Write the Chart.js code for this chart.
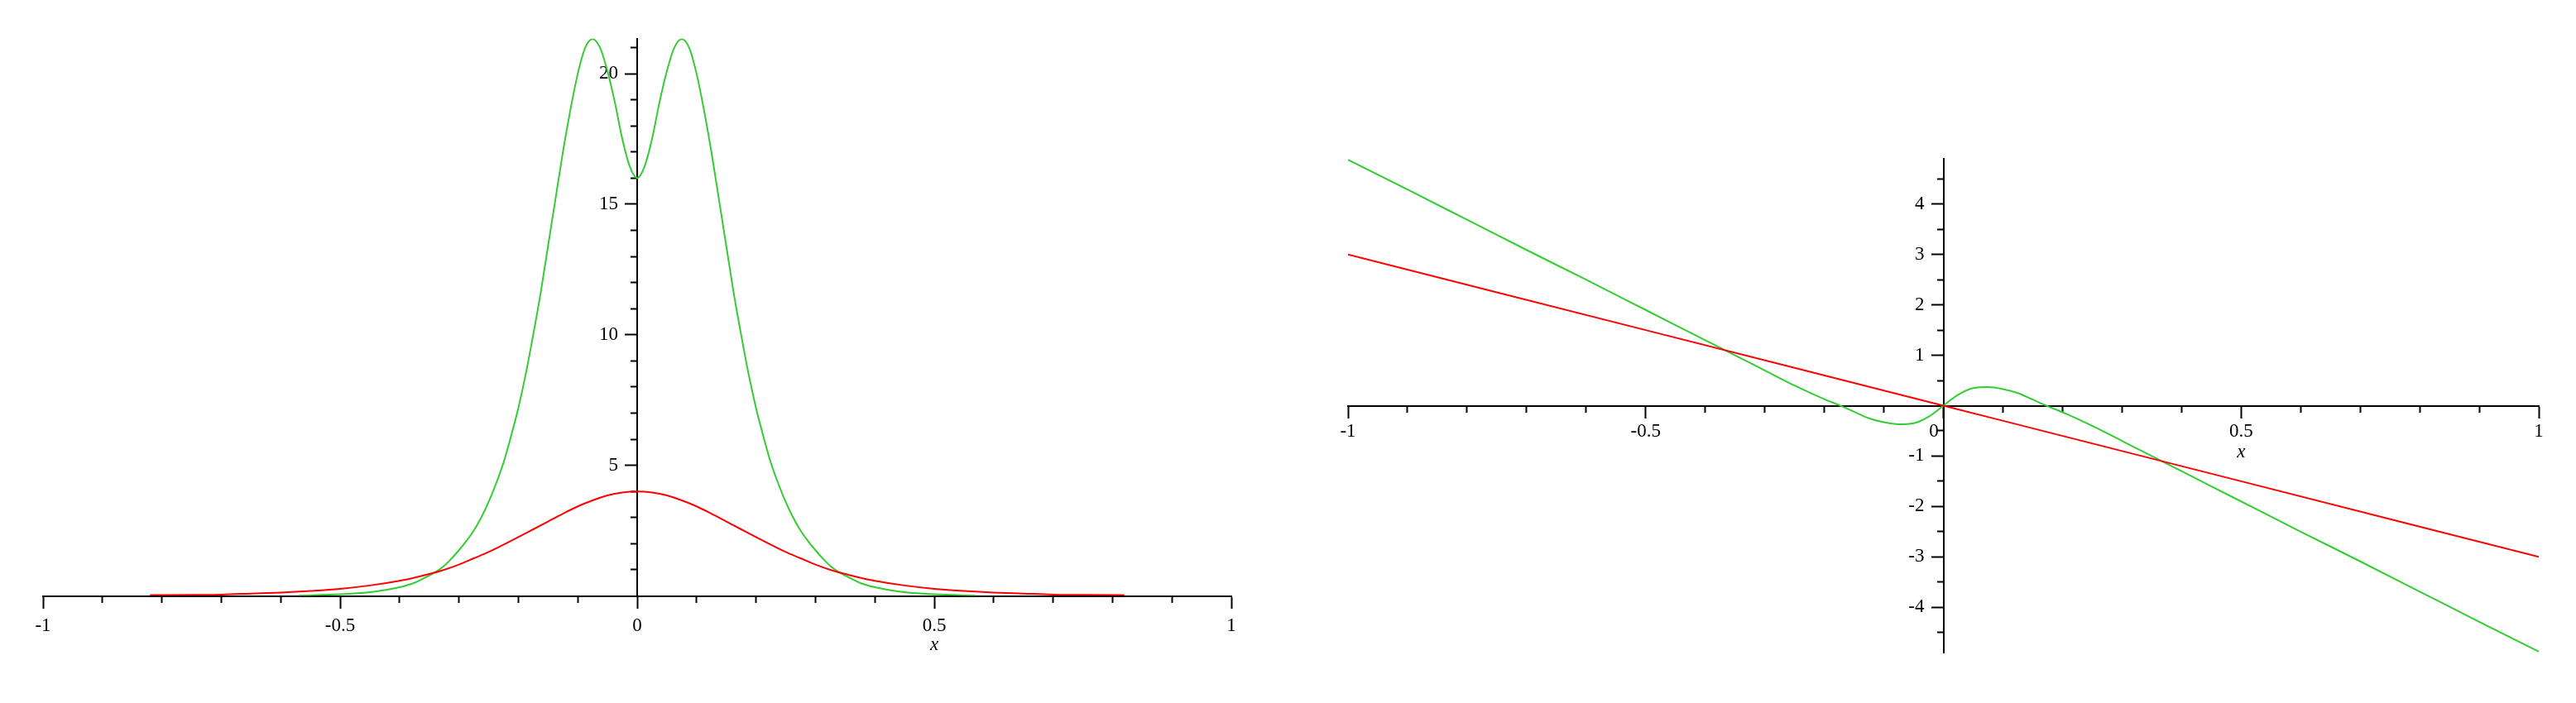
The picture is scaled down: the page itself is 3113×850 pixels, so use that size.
<!DOCTYPE html>
<html>
<head>
<meta charset="utf-8">
<script src="https://cdn.jsdelivr.net/npm/chart.js@4.4.1/dist/chart.umd.min.js"></script>
<style>
  html, body { margin: 0; padding: 0; background: #fff; }
  #wrap { position: relative; width: 3113px; height: 850px; }
  canvas { position: absolute; top: 0; }
  #left { left: 0; }
  #right { left: 1560px; }
</style>
</head>
<body>
<div id="wrap">
  <canvas id="left" width="1560" height="850"></canvas>
  <canvas id="right" width="1553" height="850"></canvas>
</div>
<script>
// left plot: red bell and green double hump
const leftRedX = [-0.82, -0.75, -0.7, -0.65, -0.6, -0.55, -0.5, -0.45, -0.4, -0.375, -0.35, -0.325, -0.3, -0.275, -0.25, -0.225, -0.2, -0.175, -0.15, -0.125, -0.1, -0.075, -0.05, -0.025,
                  0, 0.025, 0.05, 0.075, 0.1, 0.125, 0.15, 0.175, 0.2, 0.225, 0.25, 0.275, 0.3, 0.325, 0.35, 0.375, 0.4, 0.45, 0.5, 0.55, 0.6, 0.65, 0.7, 0.75, 0.82];
const leftRedY = [0.03, 0.04, 0.05, 0.09, 0.13, 0.19, 0.27, 0.40, 0.58, 0.70, 0.84, 1.0, 1.2, 1.44, 1.68, 1.96, 2.25, 2.55, 2.85, 3.15, 3.43, 3.66, 3.85, 3.96,
                  4.0, 3.96, 3.85, 3.66, 3.43, 3.15, 2.85, 2.55, 2.25, 1.96, 1.68, 1.44, 1.2, 1.0, 0.84, 0.70, 0.58, 0.40, 0.27, 0.19, 0.13, 0.09, 0.05, 0.04, 0.03];

const leftGreenX = [-0.57, -0.5, -0.45, -0.425, -0.4, -0.375, -0.35, -0.3375, -0.325, -0.3125, -0.3, -0.2875, -0.275, -0.2625, -0.25, -0.2375, -0.225, -0.2125, -0.2, -0.1875, -0.175, -0.1625, -0.15, -0.1375, -0.125, -0.1125, -0.1, -0.0875, -0.075, -0.0625, -0.05, -0.0375, -0.025, -0.0125,
                    0, 0.0125, 0.025, 0.0375, 0.05, 0.0625, 0.075, 0.0875, 0.1, 0.1125, 0.125, 0.1375, 0.15, 0.1625, 0.175, 0.1875, 0.2, 0.2125, 0.225, 0.2375, 0.25, 0.2625, 0.275, 0.2875, 0.3, 0.3125, 0.325, 0.3375, 0.35, 0.375, 0.4, 0.425, 0.45, 0.5, 0.57];
const leftGreenY = [0.01, 0.06, 0.14, 0.22, 0.33, 0.5, 0.78, 0.94, 1.15, 1.43, 1.75, 2.1, 2.5, 3.0, 3.6, 4.3, 5.1, 6.1, 7.2, 8.5, 10.0, 11.6, 13.4, 15.2, 17.0, 18.6, 20.0, 21.0, 21.33, 21.0, 20.1, 18.9, 17.5, 16.45,
                    16.0, 16.45, 17.5, 18.9, 20.1, 21.0, 21.33, 21.0, 20.0, 18.6, 17.0, 15.2, 13.4, 11.6, 10.0, 8.5, 7.2, 6.1, 5.1, 4.3, 3.6, 3.0, 2.5, 2.1, 1.75, 1.43, 1.15, 0.94, 0.78, 0.5, 0.33, 0.22, 0.14, 0.06, 0.01];

// right plot: red straight line and green wiggle
const rightRedX = [-1, -0.5, 0, 0.5, 1];
const rightRedY = [3, 1.5, 0, -1.5, -3];

const rightGreenX = [-1, -0.9, -0.8, -0.7, -0.6, -0.5, -0.4, -0.35, -0.3, -0.25, -0.2, -0.175, -0.15, -0.125, -0.1, -0.075, -0.05, -0.025,
                     0, 0.025, 0.05, 0.075, 0.1, 0.125, 0.15, 0.175, 0.2, 0.25, 0.3, 0.35, 0.4, 0.5, 0.6, 0.7, 0.8, 0.9, 1];
const rightGreenY = [4.88, 4.29, 3.69, 3.09, 2.5, 1.9, 1.3, 1.0, 0.7, 0.4, 0.13, 0.01, -0.12, -0.25, -0.33, -0.37, -0.35, -0.22,
                     0, 0.22, 0.35, 0.37, 0.33, 0.25, 0.12, -0.01, -0.13, -0.4, -0.7, -1.0, -1.3, -1.9, -2.5, -3.09, -3.69, -4.29, -4.88];

// ticks
const xTickVals = [-1, -0.9, -0.8, -0.7, -0.6, -0.5, -0.4, -0.3, -0.2, -0.1, 0, 0.1, 0.2, 0.3, 0.4, 0.5, 0.6, 0.7, 0.8, 0.9, 1];
const xLabelVals = [-1, -0.5, 0, 0.5, 1];
const leftXLabels = ['-1', '-0.5', '0', '0.5', '1'];
const rightXLabels = ['-1', '-0.5', '0\u2002\u2002', '0.5', '1'];

const leftYTickVals = [1, 2, 3, 4, 5, 6, 7, 8, 9, 10, 11, 12, 13, 14, 15, 16, 17, 18, 19, 20, 21];
const leftYLabelVals = [5, 10, 15, 20];
const leftYLabels = ['5', '10', '15', '20'];

const rightYTickVals = [-4.5, -4, -3.5, -3, -2.5, -2, -1.5, -1, -0.5, 0.5, 1, 1.5, 2, 2.5, 3, 3.5, 4, 4.5];
const rightYLabelVals = [-4, -3, -2, -1, 1, 2, 3, 4];
const rightYLabels = ['-4', '-3', '-2', '-1', '1', '2', '3', '4'];

const RED = '#ff0000';
const GREEN = '#33cc33';
// y labels sit right-aligned on the axis line, so push them past the ticks
const Y_GAP = '\u2002\u2002';

Chart.defaults.font.family = '"Liberation Serif", "Times New Roman", serif';
Chart.defaults.font.size = 23;
Chart.defaults.color = '#000';

const pts = (xs, ys) => xs.map((x, i) => ({x: x, y: ys[i]}));
const findIdx = (vals, v) => vals.findIndex(a => Math.abs(a - v) < 1e-9);

const axisName = {
    id: 'axisName',
    afterDraw(chart, args, opts) {
        const {ctx, scales} = chart;
        ctx.save();
        ctx.font = 'italic 23px "Liberation Serif"';
        ctx.fillStyle = '#000';
        ctx.textAlign = 'center';
        ctx.textBaseline = 'alphabetic';
        ctx.fillText(opts.text, scales.x.getPixelForValue(opts.at), scales.y.getPixelForValue(0) + opts.offset);
        ctx.restore();
    }
};

function makeAxis(tickVals, labelVals, labels, extra) {
    return Object.assign({
        type: 'linear',
        afterBuildTicks: s => { s.ticks = tickVals.map(v => ({value: v})); },
        grid: {
            display: true,
            drawOnChartArea: false,
            drawTicks: true,
            tickLength: 14,
            tickWidth: 2,
            tickColor: '#000',
            tickBorderDash: c => findIdx(labelVals, c.tick.value) >= 0 ? [] : [7, 40]
        },
        border: { display: true, color: '#000', width: 2 },
        ticks: {
            autoSkip: false,
            maxRotation: 0,
            minRotation: 0,
            color: '#000',
            callback: v => {
                const i = findIdx(labelVals, v);
                return i >= 0 ? labels[i] : '';
            }
        }
    }, extra);
}

function makeChart(id, datasets, sc, pad, nameOffset) {
    return new Chart(document.getElementById(id), {
        type: 'line',
        data: { datasets: datasets },
        options: {
            responsive: false,
            animation: false,
            devicePixelRatio: 1,
            layout: { padding: pad },
            plugins: {
                legend: { display: false },
                tooltip: { enabled: false },
                axisName: { text: 'x', at: 0.5, offset: nameOffset }
            },
            elements: { point: { radius: 0 } },
            scales: sc
        },
        plugins: [axisName]
    });
}

const lineStyle = (color) => ({
    borderColor: color,
    borderWidth: 2,
    pointRadius: 0,
    fill: false,
    cubicInterpolationMode: 'monotone'
});

makeChart('left', [
    Object.assign({ data: pts(leftRedX, leftRedY) }, lineStyle(RED)),
    Object.assign({ data: pts(leftGreenX, leftGreenY) }, lineStyle(GREEN))
], {
    x: makeAxis(xTickVals, xLabelVals, leftXLabels, {
        min: -1, max: 1, position: { y: 0 },
        afterFit: s => { s.height = 0; }
    }),
    y: makeAxis(leftYTickVals, leftYLabelVals, leftYLabels.map(t => t + Y_GAP), {
        min: 0, max: 21.35, position: { x: 0 },
        afterFit: s => { s.width = 0; }
    })
}, { left: 52, right: 72, top: 46.5, bottom: 129.5 }, 65);

makeChart('right', [
    Object.assign({ data: pts(rightRedX, rightRedY) }, lineStyle(RED)),
    Object.assign({ data: pts(rightGreenX, rightGreenY) }, lineStyle(GREEN))
], {
    x: makeAxis(xTickVals, xLabelVals, rightXLabels, {
        min: -1, max: 1, position: { y: 0 },
        afterFit: s => { s.height = 0; }
    }),
    y: makeAxis(rightYTickVals, rightYLabelVals, rightYLabels.map(t => t + Y_GAP), {
        min: -4.9, max: 4.9, position: { x: 0 },
        afterFit: s => { s.width = 0; }
    })
}, { left: 69, right: 45, top: 192, bottom: 61 }, 62);

// nudge the x tick labels to match the reference spacing under each axis
Chart.getChart('left').options.scales.x.ticks.padding = 9;
Chart.getChart('left').update();
Chart.getChart('right').options.scales.x.ticks.padding = 4;
Chart.getChart('right').update();
</script>
</body>
</html>
